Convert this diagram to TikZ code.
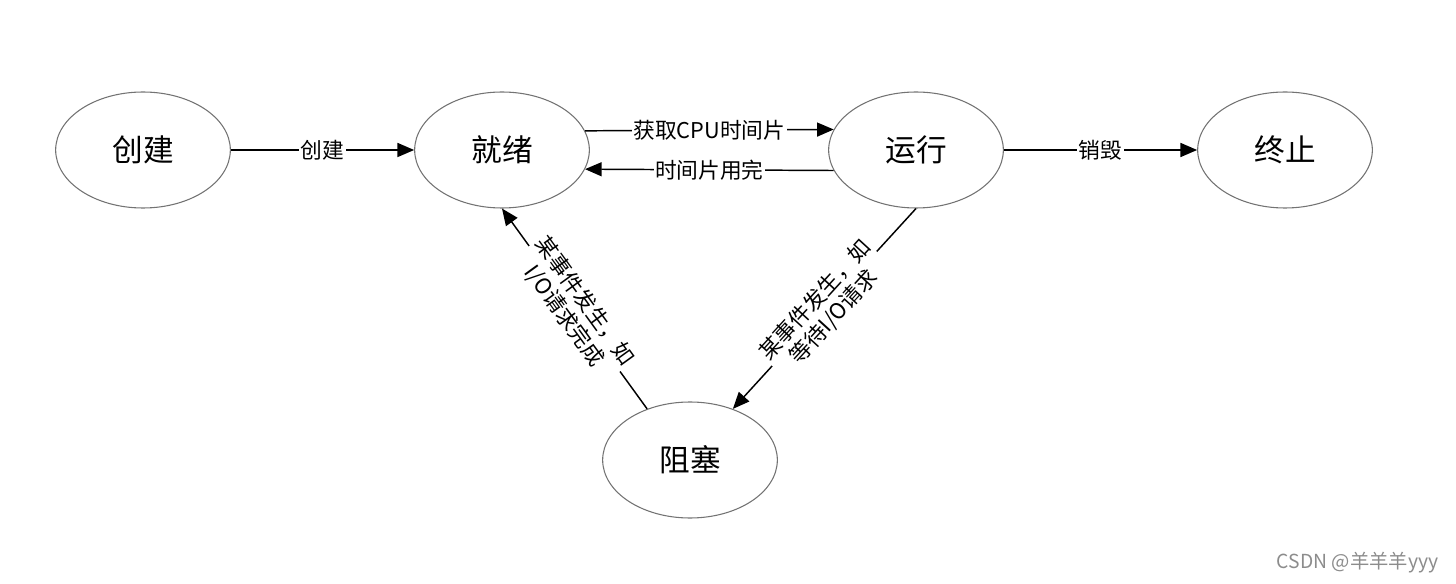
\documentclass[tikz,border=0pt]{standalone}
\usepackage{fontspec}
\setmainfont{Noto Sans CJK SC}
\usetikzlibrary{shapes.geometric,arrows.meta}
\begin{document}
\begin{tikzpicture}[x=0.75pt,y=-0.75pt,
  state/.style={ellipse,draw=black!55,line width=0.8pt,minimum width=131pt,minimum height=87pt,inner sep=0pt,font=\fontsize{23}{27}\selectfont},
  conn/.style={-{Triangle[length=12.5pt,width=10.5pt]},line width=1.1pt},
  lbl/.style={fill=white,inner sep=1pt,font=\fontsize{16.3}{19}\selectfont,align=center}]
\useasboundingbox (0,0) rectangle (1456,584);
\node[state] (cj) at (143,150) {创建};
\node[state] (jx) at (502,150) {就绪};
\node[state] (yx) at (916,150) {运行};
\node[state] (zz) at (1285,150) {终止};
\node[state] (zs) at (690,460) {阻塞};
\draw[conn] (cj) -- node[lbl]{创建} (jx);
\draw[conn] (jx.13.75) -- node[lbl]{获取CPU时间片} (yx.166.25);
\draw[conn] (yx.-166.25) -- node[lbl]{时间片用完} (jx.-13.75);
\draw[conn] (yx) -- node[lbl]{销毁} (zz);
\draw[conn] (zs.130) -- node[lbl,sloped]{某事件发生，如\\I/O请求完成} (jx.south);
\draw[conn] (yx.south) -- node[lbl,sloped]{某事件发生，如\\等待I/O请求} (zs.50);
\node[anchor=east,text=black!45,font=\fontsize{14.5}{17}\selectfont] (wm) at (1443,563) {CSDN @羊羊羊yyy};
\end{tikzpicture}
\end{document}
